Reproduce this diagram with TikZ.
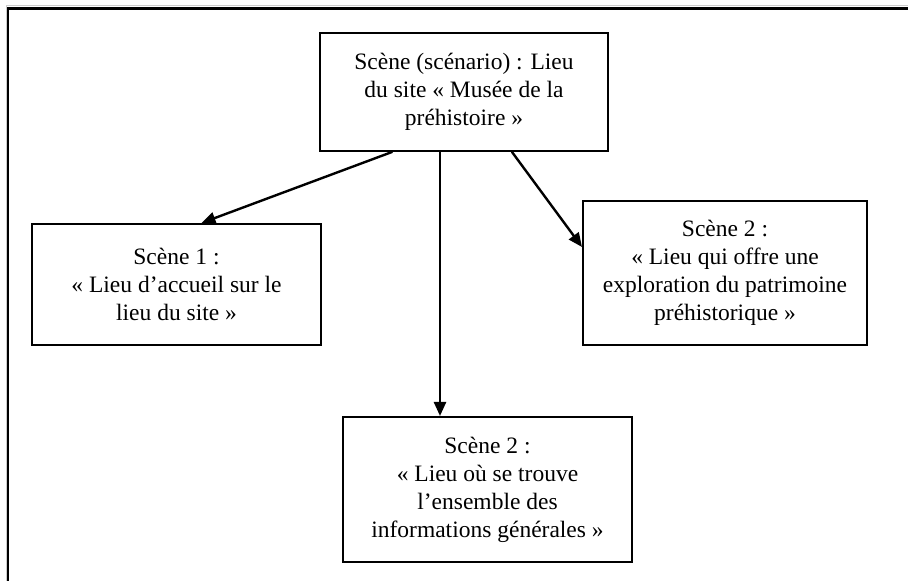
\documentclass[tikz,border=0pt]{standalone}
\usepackage{fontspec}
\setmainfont{Liberation Serif}
\usepackage{tikz}
\usetikzlibrary{arrows.meta}

\begin{document}
\begin{tikzpicture}[x=1pt, y=1pt, line cap = round,
    scene/.style={draw, line width=2pt, rectangle, inner sep=0pt, align=center,
        font=\fontsize{23.5}{28}\selectfont},
    link/.style={line width=2.4pt, -{Triangle[length=14pt, width=12pt]}}]
            \useasboundingbox (0, 0) rectangle (908, 581);
            % page frame (left and top edges only)
            \draw[gray!40, line width=1pt] (6, 0) -- (6, 575) -- (908, 575);
            \draw[line width=2.5pt] (8, 0) -- (8, 572.5) -- (908, 572.5);
            % scenario box
            \node[scene, minimum width=288, minimum height=118] (top) at (464, 489)
                {Scène (scénario) : Lieu\\du site « Musée de la\\préhistoire »};
            % scene boxes
            \node[scene, minimum width=289, minimum height=121] (left) at (176.5, 296.5)
                {Scène 1 :\\« Lieu d’accueil sur le\\lieu du site »};
            \node[scene, minimum width=284, minimum height=144] (right) at (725, 308)
                {Scène 2 :\\« Lieu qui offre une\\exploration du patrimoine\\préhistorique »};
            \node[scene, minimum width=289, minimum height=145] (bottom) at (487.5, 91.5)
                {Scène 2 :\\« Lieu où se trouve\\l’ensemble des\\informations générales »};
            % arrows from the scenario
            \draw[link] ([xshift=-72]top.south) -- ([xshift=25]left.north);
            \draw[link] ([xshift=-24]top.south) -- ([xshift=-47.5]bottom.north);
            \draw[link] ([xshift=48]top.south) -- ([yshift=26]right.west);
        \end{tikzpicture}
\end{document}
